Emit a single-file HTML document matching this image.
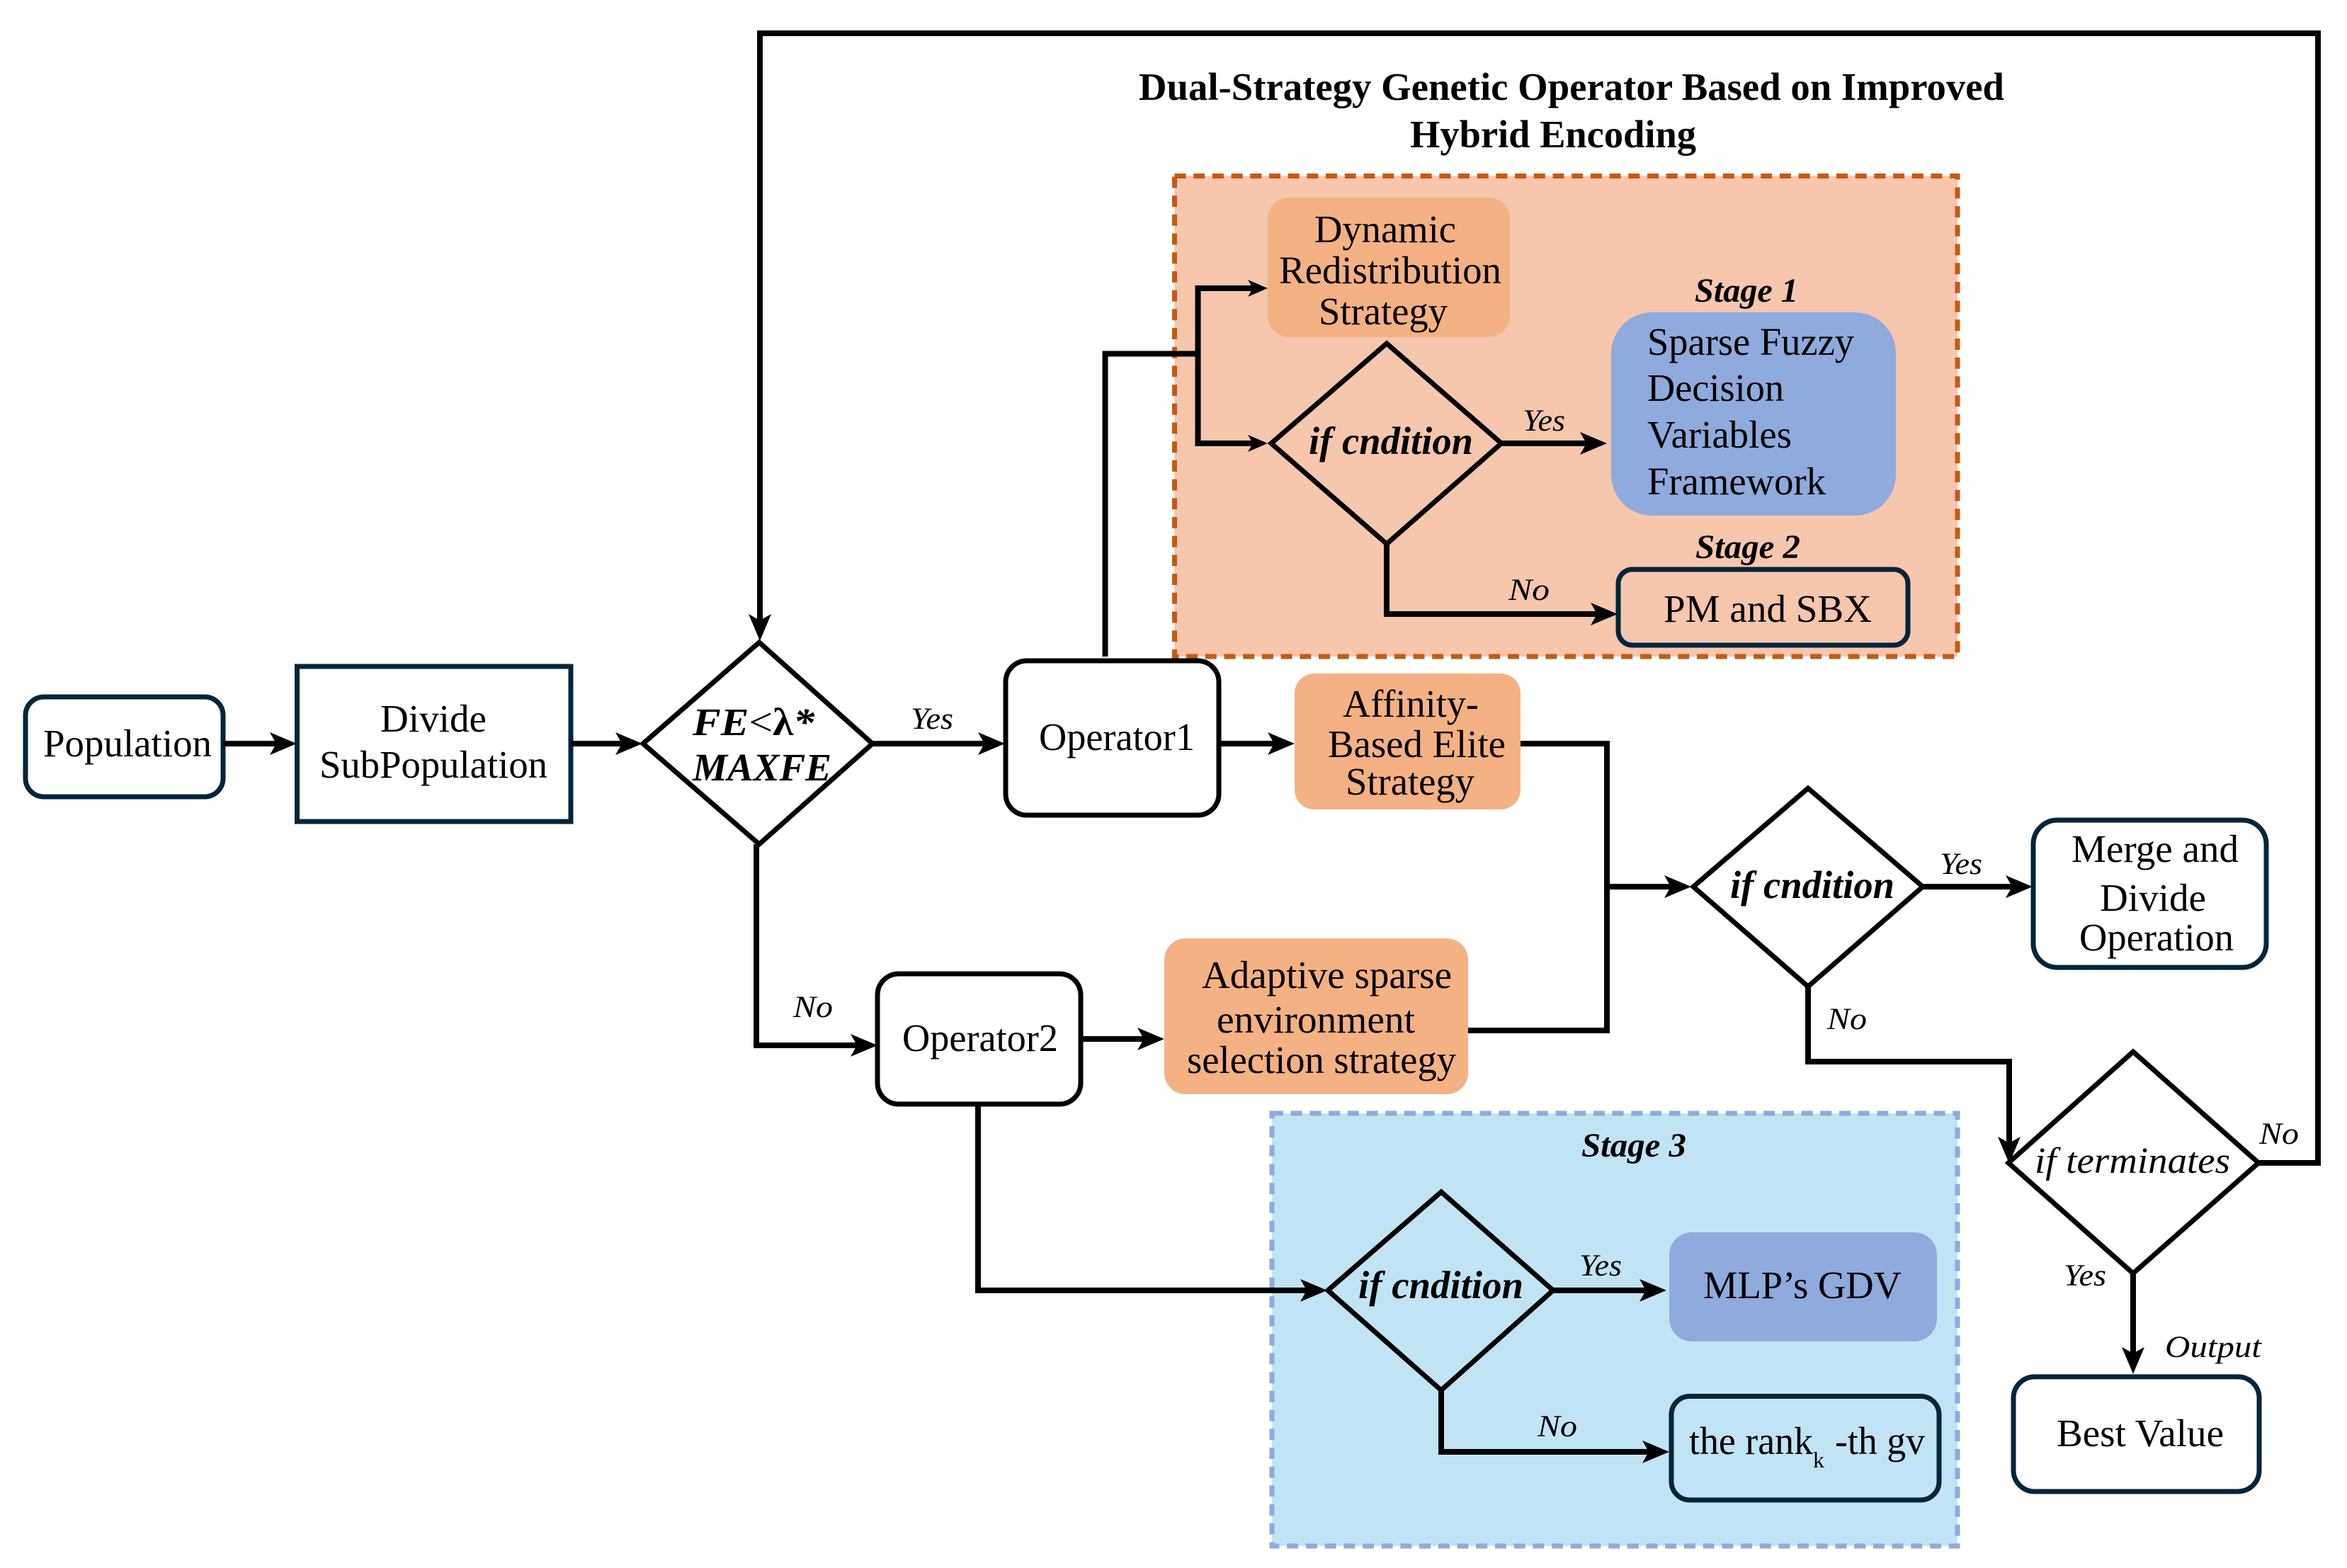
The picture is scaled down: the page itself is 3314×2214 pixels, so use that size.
<!DOCTYPE html>
<html><head><meta charset="utf-8"><style>
html,body{margin:0;padding:0;background:#fff}
svg{display:block}
text{font-family:"Liberation Serif","Times New Roman",serif;fill:#000;font-size:55px}
.i{font-style:italic;font-size:43px}
.b{font-weight:bold;font-size:55px}
.bi{font-weight:bold;font-style:italic;font-size:48px}
.c{font-weight:bold;font-style:italic;font-size:55px}
.l{fill:none;stroke:#000;stroke-width:8;stroke-linejoin:miter}
.d{fill:none;stroke:#000;stroke-width:7;stroke-linejoin:miter}
.k{stroke:#03243a;stroke-width:7}
.n{stroke:#000;stroke-width:7}
</style></head><body>
<svg xmlns="http://www.w3.org/2000/svg" width="3314" height="2214" viewBox="0 0 3314 2214">
<defs>
<marker id="a" markerUnits="userSpaceOnUse" markerWidth="40" markerHeight="36" viewBox="0 -18 40 36" refX="20" refY="0" orient="auto"><path d="M0,-16 L38,0 L0,16 L9,0 Z" fill="#000"/></marker>
<marker id="s" markerUnits="userSpaceOnUse" markerWidth="30" markerHeight="28" viewBox="0 -14 30 28" refX="14" refY="0" orient="auto"><path d="M0,-12 L28,0 L0,12 L7,0 Z" fill="#000"/></marker>
</defs>
<rect width="3314" height="2214" fill="#fff"/>

<!-- panels -->
<rect x="1658.5" y="248.5" width="1105.5" height="678.5" fill="#f6c6ad" stroke="#c55a11" stroke-width="7" stroke-dasharray="16 10.7"/>
<rect x="1796" y="1572" width="968" height="611" fill="#c1e4f5" stroke="#8faadc" stroke-width="7" stroke-dasharray="16 10.7"/>

<!-- filled boxes -->
<rect x="1790" y="279" width="342" height="197" rx="30" fill="#f4b183"/>
<rect x="2275" y="441" width="402" height="287" rx="58" fill="#8faadc"/>
<rect x="1828" y="951" width="319" height="192" rx="28" fill="#f4b183"/>
<rect x="1644" y="1325" width="429" height="220" rx="30" fill="#f4b183"/>
<rect x="2357" y="1740" width="378" height="154" rx="32" fill="#8faadc"/>

<!-- outlined boxes -->
<rect x="36" y="984" width="279" height="141" rx="26" fill="#fff" class="k"/>
<rect x="419.5" y="941" width="386.5" height="219" fill="#fff" class="k"/>
<rect x="1420" y="933" width="301" height="218" rx="30" fill="#fff" class="n"/>
<rect x="1239" y="1375" width="287" height="184" rx="30" fill="#fff" class="n"/>
<rect x="2285" y="804" width="409" height="107" rx="20" fill="none" class="k"/>
<rect x="2360" y="1971.5" width="378" height="146.5" rx="26" fill="none" class="k"/>
<rect x="2871" y="1158" width="329" height="208" rx="34" fill="#fff" class="k"/>
<rect x="2843" y="1944" width="347" height="162" rx="30" fill="#fff" class="k"/>

<!-- diamonds -->
<polygon points="1072,907 1232,1050 1072,1192 908,1050" fill="#fff" class="d"/>
<polygon points="1958,485 2120,626 1958,768 1795,626" fill="none" class="d"/>
<polygon points="2035,1683 2193,1822 2035,1963 1875,1822" fill="none" class="d"/>
<polygon points="2553,1113 2715,1252 2553,1393 2391,1252" fill="#fff" class="d"/>
<polygon points="3012,1485 3189,1642 3012,1798 2836,1642" fill="#fff" class="d"/>

<!-- connectors -->
<path d="M315,1050H401" class="l" marker-end="url(#a)"/>
<path d="M806,1050H889" class="l" marker-end="url(#a)"/>
<path d="M1232,1050H1401" class="l" marker-end="url(#a)"/>
<path d="M1068,1192V1476H1221" class="l" marker-end="url(#a)"/>
<path d="M1721,1050H1810" class="l" marker-end="url(#a)"/>
<path d="M1526,1467H1626" class="l" marker-end="url(#a)"/>
<path d="M1560.5,927V499.5H1691.5" class="l"/>
<path d="M1691.5,499.5V407H1776" class="l" marker-end="url(#s)"/>
<path d="M1691.5,499.5V626H1776" class="l" marker-end="url(#s)"/>
<path d="M2120,626H2251" class="l" marker-end="url(#a)"/>
<path d="M1958,768V867H2266" class="l" marker-end="url(#a)"/>
<path d="M1381,1559V1822H1856" class="l" marker-end="url(#a)"/>
<path d="M2193,1822H2335" class="l" marker-end="url(#a)"/>
<path d="M2035,1963V2050H2339" class="l" marker-end="url(#a)"/>
<path d="M2147,1050H2269V1455H2073" class="l"/>
<path d="M2269,1252H2370" class="l" marker-end="url(#a)"/>
<path d="M2715,1252H2852" class="l" marker-end="url(#a)"/>
<path d="M2553,1393V1499H2837V1625" class="l" marker-end="url(#a)"/>
<path d="M3012,1798V1922" class="l" marker-end="url(#a)"/>
<path d="M3189,1642H3273V47H1073V887" class="l" marker-end="url(#a)"/>

<!-- title -->
<text x="1608" y="141" class="b" textLength="1222" lengthAdjust="spacingAndGlyphs">Dual-Strategy Genetic Operator Based on Improved</text>
<text x="1991" y="208" class="b" textLength="404" lengthAdjust="spacingAndGlyphs">Hybrid Encoding</text>

<!-- main text -->
<text x="61" y="1068" textLength="238" lengthAdjust="spacingAndGlyphs">Population</text>
<text x="537" y="1033" textLength="150" lengthAdjust="spacingAndGlyphs">Divide</text>
<text x="451" y="1098" textLength="322" lengthAdjust="spacingAndGlyphs">SubPopulation</text>
<text x="978" y="1038" class="c" textLength="172" lengthAdjust="spacingAndGlyphs">FE<tspan font-style="normal" font-weight="normal">&lt;</tspan><tspan font-style="normal">λ</tspan>*</text>
<text x="978" y="1102" class="c" textLength="196" lengthAdjust="spacingAndGlyphs">MAXFE</text>
<text x="1467" y="1059" textLength="220" lengthAdjust="spacingAndGlyphs">Operator1</text>
<text x="1274" y="1484" textLength="220" lengthAdjust="spacingAndGlyphs">Operator2</text>
<text x="1896" y="1012" textLength="192" lengthAdjust="spacingAndGlyphs">Affinity-</text>
<text x="1875" y="1069" textLength="251" lengthAdjust="spacingAndGlyphs">Based Elite</text>
<text x="1900" y="1122" textLength="182" lengthAdjust="spacingAndGlyphs">Strategy</text>
<text x="1697" y="1395" textLength="353" lengthAdjust="spacingAndGlyphs">Adaptive sparse</text>
<text x="1718" y="1458" textLength="280" lengthAdjust="spacingAndGlyphs">environment</text>
<text x="1676" y="1515" textLength="380" lengthAdjust="spacingAndGlyphs">selection strategy</text>
<text x="1856" y="342" textLength="200" lengthAdjust="spacingAndGlyphs">Dynamic</text>
<text x="1806" y="400" textLength="314" lengthAdjust="spacingAndGlyphs">Redistribution</text>
<text x="1862" y="458" textLength="182" lengthAdjust="spacingAndGlyphs">Strategy</text>
<text x="1848" y="641" class="c" textLength="232" lengthAdjust="spacingAndGlyphs">if cndition</text>
<text x="2326" y="501" textLength="292" lengthAdjust="spacingAndGlyphs">Sparse Fuzzy</text>
<text x="2326" y="566" textLength="193" lengthAdjust="spacingAndGlyphs">Decision</text>
<text x="2326" y="632" textLength="204" lengthAdjust="spacingAndGlyphs">Variables</text>
<text x="2326" y="698" textLength="252" lengthAdjust="spacingAndGlyphs">Framework</text>
<text x="2349" y="878" textLength="294" lengthAdjust="spacingAndGlyphs">PM and SBX</text>
<text x="2443" y="1268" class="c" textLength="232" lengthAdjust="spacingAndGlyphs">if cndition</text>
<text x="2925" y="1217" textLength="236" lengthAdjust="spacingAndGlyphs">Merge and</text>
<text x="2965" y="1286" textLength="150" lengthAdjust="spacingAndGlyphs">Divide</text>
<text x="2936" y="1342" textLength="218" lengthAdjust="spacingAndGlyphs">Operation</text>
<text x="2873" y="1656" class="i" style="font-size:52px" textLength="276" lengthAdjust="spacingAndGlyphs">if terminates</text>
<text x="2904" y="2042" textLength="236" lengthAdjust="spacingAndGlyphs">Best Value</text>
<text x="1918" y="1833" class="c" textLength="233" lengthAdjust="spacingAndGlyphs">if cndition</text>
<text x="2405" y="1833" textLength="280" lengthAdjust="spacingAndGlyphs">MLP’s GDV</text>
<text x="2385" y="2053" textLength="175" lengthAdjust="spacingAndGlyphs">the rank</text>
<text x="2560" y="2072" style="font-size:32px">k</text>
<text x="2591" y="2053" textLength="127" lengthAdjust="spacingAndGlyphs">-th gv</text>

<!-- stage labels -->
<text x="2393" y="426" class="bi" textLength="146" lengthAdjust="spacingAndGlyphs">Stage 1</text>
<text x="2394" y="788" class="bi" textLength="148" lengthAdjust="spacingAndGlyphs">Stage 2</text>
<text x="2233" y="1633" class="bi" textLength="148" lengthAdjust="spacingAndGlyphs">Stage 3</text>

<!-- edge labels -->
<text x="1286" y="1029" class="i" textLength="60" lengthAdjust="spacingAndGlyphs">Yes</text>
<text x="1120" y="1436" class="i" textLength="56" lengthAdjust="spacingAndGlyphs">No</text>
<text x="2150" y="608" class="i" textLength="60" lengthAdjust="spacingAndGlyphs">Yes</text>
<text x="2130" y="847" class="i" textLength="58" lengthAdjust="spacingAndGlyphs">No</text>
<text x="2739" y="1234" class="i" textLength="60" lengthAdjust="spacingAndGlyphs">Yes</text>
<text x="2580" y="1453" class="i" textLength="56" lengthAdjust="spacingAndGlyphs">No</text>
<text x="3190" y="1615" class="i" textLength="56" lengthAdjust="spacingAndGlyphs">No</text>
<text x="2914" y="1815" class="i" textLength="60" lengthAdjust="spacingAndGlyphs">Yes</text>
<text x="3057" y="1916" class="i" textLength="136" lengthAdjust="spacingAndGlyphs">Output</text>
<text x="2230" y="1801" class="i" textLength="60" lengthAdjust="spacingAndGlyphs">Yes</text>
<text x="2171" y="2028" class="i" textLength="56" lengthAdjust="spacingAndGlyphs">No</text>
</svg>
</body></html>
